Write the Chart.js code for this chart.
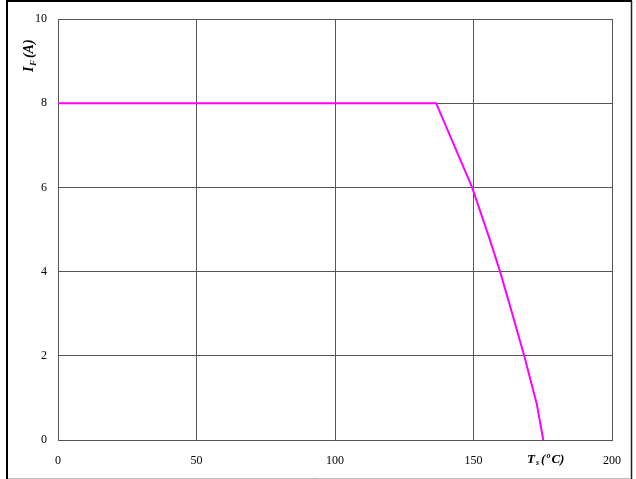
<!DOCTYPE html>
<html>
<head>
<meta charset="utf-8">
<script src="https://cdn.jsdelivr.net/npm/chart.js@4/dist/chart.umd.min.js"></script>
<style>
  html, body { margin: 0; padding: 0; background: #fff; }
  #wrap { position: relative; width: 636px; height: 479px; }
  canvas { display: block; }
</style>
</head>
<body>
<div id="wrap"><canvas id="c" width="636" height="479"></canvas></div>
<script>
// Forward current derating versus case temperature
const tempC    = [0, 136.5, 149.5, 155.9, 159.6, 164.0, 168.3, 172.8, 175.2];
const currentA = [8, 8,     6.0,   4.76,  4.0,   3.0,   2.0,   0.87,  0];
const xTicks = [0, 50, 100, 150, 200];
const yTicks = [0, 2, 4, 6, 8, 10];

const SERIF = '"Liberation Serif", "Times New Roman", serif';
const GRID = '#555555';

// Frame around the whole figure plus the rich-text axis titles
const decorations = {
  id: 'decorations',
  afterDraw(chart) {
    const ctx = chart.ctx;
    ctx.save();
    // outer frame
    ctx.lineWidth = 2;
    ctx.strokeStyle = '#000';
    ctx.beginPath();
    ctx.moveTo(7, 479); ctx.lineTo(7, 1); ctx.lineTo(632, 1);
    ctx.stroke();
    ctx.lineWidth = 1.5;
    ctx.strokeStyle = '#222';
    ctx.beginPath();
    ctx.moveTo(631.5, 1); ctx.lineTo(631.5, 479);
    ctx.stroke();
    ctx.lineWidth = 1;
    ctx.strokeStyle = '#bbbbbb';
    ctx.beginPath();
    ctx.moveTo(8, 478.5); ctx.lineTo(631, 478.5);
    ctx.stroke();

    ctx.fillStyle = '#000';
    ctx.textBaseline = 'alphabetic';

    // Y title: I_F (A), rotated
    ctx.translate(33, 72);
    ctx.rotate(-Math.PI / 2);
    let x = 0;
    ctx.font = 'bold italic 14px ' + SERIF;
    ctx.fillText('I', x, 0); x += ctx.measureText('I').width + 0.5;
    ctx.font = 'bold italic 9px ' + SERIF;
    ctx.fillText('F', x, 3); x += ctx.measureText('F').width + 2;
    ctx.font = 'bold italic 14px ' + SERIF;
    ctx.fillText('(A)', x, 0);
    ctx.setTransform(1, 0, 0, 1, 0, 0);

    // X title: T_s (°C)
    x = 527;
    const y = 463;
    ctx.font = 'bold italic 13px ' + SERIF;
    ctx.fillText('T', x, y); x += ctx.measureText('T').width + 1;
    ctx.font = 'bold italic 8px ' + SERIF;
    ctx.fillText('s', x, y + 2); x += ctx.measureText('s').width + 2;
    ctx.font = 'bold italic 13px ' + SERIF;
    ctx.fillText('(', x, y); x += ctx.measureText('(').width + 1;
    ctx.font = 'bold italic 8px ' + SERIF;
    ctx.fillText('o', x, y - 5); x += ctx.measureText('o').width + 1;
    ctx.font = 'bold italic 13px ' + SERIF;
    ctx.fillText('C)', x, y);
    ctx.restore();
  }
};

new Chart(document.getElementById('c'), {
  type: 'scatter',
  data: {
    datasets: [{
      data: tempC.map((t, i) => ({ x: t, y: currentA[i] })),
      showLine: true,
      borderColor: '#ff00ff',
      borderWidth: 2,
      pointRadius: 0,
      fill: false,
      tension: 0
    }]
  },
  options: {
    responsive: false,
    animation: false,
    events: [],
    layout: { padding: { left: 0, top: 19, right: 24, bottom: 0 } },
    plugins: { legend: { display: false }, tooltip: { enabled: false } },
    scales: {
      x: {
        type: 'linear',
        min: 0, max: 200,
        afterBuildTicks(scale) { scale.ticks = xTicks.map(v => ({ value: v })); },
        afterFit(scale) { scale.height = 39; },
        ticks: { color: '#000', padding: 14, maxRotation: 0, font: { family: SERIF, size: 12 } },
        grid: { color: GRID, lineWidth: 1, drawTicks: false },
        border: { color: GRID, width: 1 }
      },
      y: {
        type: 'linear',
        min: 0, max: 10,
        afterBuildTicks(scale) { scale.ticks = yTicks.map(v => ({ value: v })); },
        afterFit(scale) { scale.width = 58; },
        ticks: { color: '#000', padding: 11, font: { family: SERIF, size: 12 } },
        grid: { color: GRID, lineWidth: 1, drawTicks: false },
        border: { color: GRID, width: 1 }
      }
    }
  },
  plugins: [decorations]
});
</script>
</body>
</html>
